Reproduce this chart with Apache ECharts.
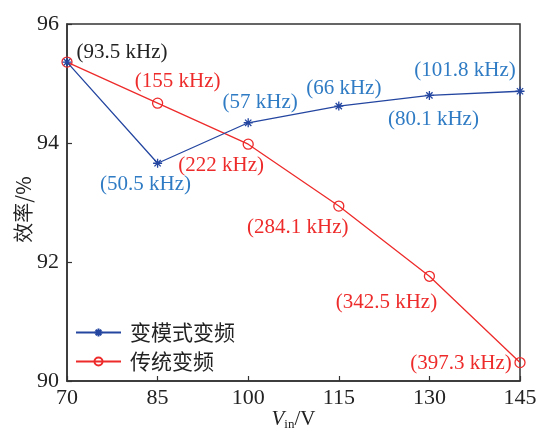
<!DOCTYPE html>
<html><head><meta charset="utf-8">
<script src="https://cdn.jsdelivr.net/npm/echarts@6/dist/echarts.min.js"></script>
<style>html,body{margin:0;padding:0;background:#fff}#c{width:537px;height:430px}</style>
</head><body><div id="c"></div>
<script>
const vin = [70, 85, 100, 115, 130, 145];
const modeEff = [95.36, 93.66, 94.34, 94.62, 94.80, 94.87];
const convEff = [95.36, 94.67, 93.98, 92.94, 91.76, 90.31];
const modeFreq = ['', '(50.5 kHz)', '(57 kHz)', '(66 kHz)', '(80.1 kHz)', '(101.8 kHz)'];
const convFreq = ['(93.5 kHz)', '(155 kHz)', '(222 kHz)', '(284.1 kHz)', '(342.5 kHz)', '(397.3 kHz)'];
const yTicks = [90, 92, 94, 96];
const xTicks = [70, 85, 100, 115, 130, 145];

// label placement (pixel offsets from the marker)
const modeOff = [[0,0], [-12,21], [12,-20], [5,-18], [4,24], [-55,-21]];
const convOff = [[55,-10], [20,-22], [-27,21], [-41,21], [-43,26], [-59,1]];

const BLUE_LINE = '#2446a0', BLUE_TXT = '#2f7bc4', RED = '#ee2b2b';
const SERIF = '"Liberation Serif", "Times New Roman", serif';
const starPath = 'path://M10 0 L10 20 M0 10 L20 10 M3 3 L17 17 M17 3 L3 17';

function mk(vals, labels, offs, lblColor, firstColor) {
  return vals.map((v, i) => ({
    value: [vin[i], v],
    label: {
      show: labels[i] !== '',
      formatter: labels[i],
      position: 'inside',
      offset: offs[i],
      align: 'center',
      verticalAlign: 'middle',
      color: (i === 0 && firstColor) ? firstColor : lblColor,
      fontFamily: SERIF,
      fontSize: 21
    }
  }));
}

const chart = echarts.init(document.getElementById('c'), null, {renderer: 'canvas'});
chart.setOption({
  animation: false,
  grid: {left: 67, right: 17, top: 24, bottom: 49, show: true, borderColor: '#333', borderWidth: 1.5,
    containLabel: false, outerBoundsMode: 'none'},
  legend: {
    orient: 'vertical', left: 75, top: 322, padding: 0, itemGap: 8,
    itemWidth: 45, itemHeight: 10,
    textStyle: {fontFamily: '"Noto Sans CJK SC"', fontSize: 21, color: '#222', padding: [0,0,0,4]},
    data: ['变模式变频', '传统变频']
  },
  xAxis: {
    type: 'value', min: 70, max: 145, interval: 15,
    name: '{i|V}{s|in}{n|/V}', nameLocation: 'middle', nameGap: 27, nameMoveOverlap: false,
    nameTextStyle: {
      rich: {
        i: {fontFamily: SERIF, fontStyle: 'italic', fontSize: 21, color: '#222'},
        s: {fontFamily: SERIF, fontSize: 13, color: '#222', verticalAlign: 'bottom', padding: [10,0,0,0]},
        n: {fontFamily: SERIF, fontSize: 21, color: '#222'}
      }
    },
    axisLine: {lineStyle: {color: '#333', width: 1.5}},
    axisTick: {inside: true, length: 5, lineStyle: {color: '#333', width: 1.2}},
    axisLabel: {fontFamily: SERIF, fontSize: 22, color: '#222', margin: 6,
      formatter: v => xTicks.includes(v) ? String(v) : ''},
    splitLine: {show: false}
  },
  yAxis: {
    type: 'value', min: 90, max: 96, interval: 2,
    name: '效率/%', nameLocation: 'middle', nameGap: 34, nameRotate: 90, nameMoveOverlap: false,
    nameTextStyle: {fontFamily: '"Noto Sans CJK SC"', fontSize: 20, color: '#222', padding: [0, 14, 0, 0]},
    axisLine: {lineStyle: {color: '#333', width: 1.5}},
    axisTick: {inside: true, length: 5, lineStyle: {color: '#333', width: 1.2}},
    axisLabel: {fontFamily: SERIF, fontSize: 22, color: '#222', margin: 8,
      formatter: v => yTicks.includes(v) ? String(v) : ''},
    splitLine: {show: false}
  },
  series: [
    {
      name: '变模式变频', type: 'line', z: 3,
      data: mk(modeEff, modeFreq, modeOff, BLUE_TXT),
      symbol: starPath, symbolSize: 9,
      lineStyle: {color: BLUE_LINE, width: 1.3},
      itemStyle: {color: BLUE_LINE, borderColor: BLUE_LINE, borderWidth: 1.3}
    },
    {
      name: '传统变频', type: 'line', z: 2,
      data: mk(convEff, convFreq, convOff, RED, '#222'),
      symbol: 'circle', symbolSize: 10,
      lineStyle: {color: RED, width: 1.3},
      itemStyle: {color: 'rgba(255,255,255,0)', borderColor: RED, borderWidth: 1.3}
    }
  ]
});
</script></body></html>
